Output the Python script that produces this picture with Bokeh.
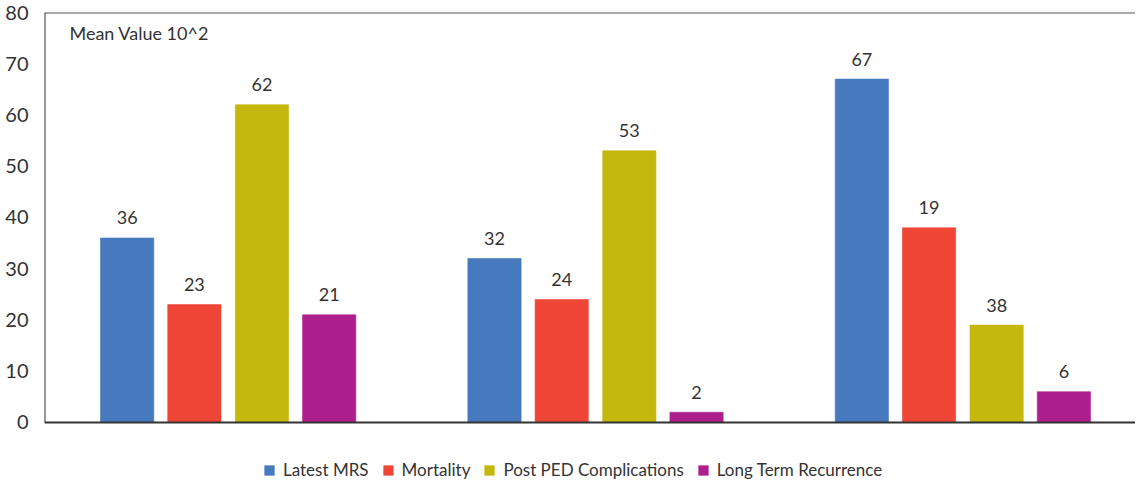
from bokeh.plotting import figure
from bokeh.models import ColumnDataSource, Range1d, Span, Label, Legend, LegendItem
from bokeh.core.properties import value
from bokeh.transform import dodge
from bokeh.embed import file_html
from bokeh.resources import INLINE

series = ["Latest MRS", "Mortality", "Post PED Complications", "Long Term Recurrence"]
colors = ["#4679BD", "#EF4638", "#C4B70E", "#AE1F8E"]
groups = [0.5, 1.5, 2.5]
latest_mrs = [36, 32, 67]
mortality = [23, 24, 38]
post_ped = [62, 53, 19]
recurrence = [21, 2, 6]
# printed labels as in the source (labels of group 3 swapped for two series)
latest_mrs_lbl = ["36", "32", "67"]
mortality_lbl = ["23", "24", "19"]
post_ped_lbl = ["62", "53", "38"]
recurrence_lbl = ["21", "2", "6"]
yticks = [0, 10, 20, 30, 40, 50, 60, 70, 80]

values = [latest_mrs, mortality, post_ped, recurrence]
labels = [latest_mrs_lbl, mortality_lbl, post_ped_lbl, recurrence_lbl]

FONT = "Lato"
TXT = "#333333"
Y_MIN, Y_MAX = -11.71, 80

p = figure(width=1135, height=482, output_backend="svg", toolbar_location=None,
           x_range=Range1d(0, 2.97), y_range=Range1d(Y_MIN, Y_MAX),
           min_border_left=44, min_border_right=0, min_border_top=12, min_border_bottom=0)
p.xaxis.visible = False
p.xgrid.visible = False
p.ygrid.visible = False
p.outline_line_color = None
p.background_fill_color = "white"

ax = p.yaxis[0]
ax.ticker = yticks
ax.major_tick_line_color = None
ax.minor_tick_line_color = None
ax.axis_line_color = None
ax.major_label_text_font = FONT
ax.major_label_text_font_size = "20px"
ax.major_label_text_color = TXT
ax.major_label_standoff = 10

# frame lines: left edge from 0 to top, top edge, baseline
p.segment(x0=[0], y0=[yticks[0]], x1=[0], y1=[yticks[-1]], line_color="#333333", line_width=2)
p.add_layout(Span(location=yticks[-1], dimension="width", line_color="#555555", line_width=2))
p.add_layout(Span(location=yticks[0], dimension="width", line_color="#333333", line_width=2))

offsets = [-0.275, -0.092, 0.092, 0.275]
items = []
for name, col, vals, lbls, off in zip(series, colors, values, labels, offsets):
    src = ColumnDataSource(dict(x=groups, top=vals, lbl=lbls))
    r = p.vbar(x=dodge("x", off), top="top", width=0.145, source=src,
               fill_color=col, line_color=col, line_alpha=0.6)
    p.text(x=dodge("x", off), y="top", text="lbl", source=src,
           text_align="center", text_baseline="alphabetic", y_offset=-20,
           text_font=value(FONT), text_font_size="18px", text_color=TXT)
    items.append(LegendItem(label=name, renderers=[r]))

p.add_layout(Label(x=0.068, y=76.0, text="Mean Value 10^2", text_font=FONT,
                   text_font_size="18px", text_color=TXT, text_baseline="alphabetic"))

legend = Legend(items=items, orientation="horizontal", location=(219, 2),
                label_text_font=FONT, label_text_font_size="17px", label_text_color=TXT,
                glyph_width=12, glyph_height=12, label_standoff=8, spacing=13,
                padding=0, margin=0, border_line_color=None, background_fill_alpha=0,
                label_height=18)
p.add_layout(legend, "center")

open("out.html", "w").write(file_html(p, INLINE))
